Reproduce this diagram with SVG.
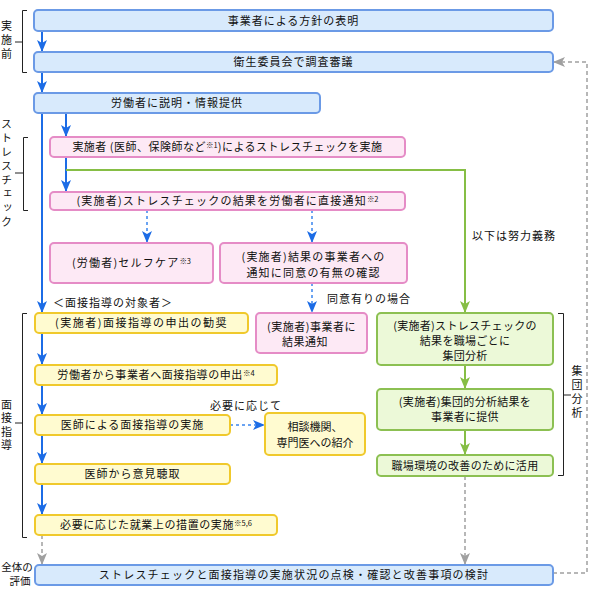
<svg xmlns="http://www.w3.org/2000/svg" width="590" height="595" viewBox="0 0 590 595">
<defs>
<style>
text{font-family:"Noto Sans CJK JP","Noto Sans CJK SC",sans-serif;font-size:11px;letter-spacing:1px;fill:#111;}
.c{text-anchor:middle;}
.v{writing-mode:vertical-rl;text-anchor:middle;}
.sup{font-size:7.5px;letter-spacing:0;}
.bl rect{fill:#d8eafc;stroke:#6b9ae6;stroke-width:2;}
.pk rect{fill:#fde9f5;stroke:#e58cc6;stroke-width:2;}
.yl rect{fill:#fffbd0;stroke:#f0c92c;stroke-width:2;}
.gr rect{fill:#ecf9d8;stroke:#8cc052;stroke-width:2;}
.ab{fill:none;stroke:#1c6ce6;stroke-width:2;}
.ad{fill:none;stroke:#3a85ee;stroke-width:1.5;stroke-dasharray:3,3;}
.ag{fill:none;stroke:#86be45;stroke-width:2;}
.ay{fill:none;stroke:#a0a0a0;stroke-width:1.5;stroke-dasharray:4,3;}
.br{fill:none;stroke:#222;stroke-width:1;}
</style>
<marker id="mb" viewBox="0 0 12 10" refX="11" refY="5" markerWidth="12" markerHeight="10" markerUnits="userSpaceOnUse" orient="auto"><path d="M0,0 L12,5 L0,10 L3,5 z" fill="#1c6ce6"/></marker>
<marker id="mg" viewBox="0 0 12 10" refX="11" refY="5" markerWidth="12" markerHeight="10" markerUnits="userSpaceOnUse" orient="auto"><path d="M0,0 L12,5 L0,10 L3,5 z" fill="#86be45"/></marker>
<marker id="my" viewBox="0 0 12 10" refX="11" refY="5" markerWidth="12" markerHeight="10" markerUnits="userSpaceOnUse" orient="auto"><path d="M0,0 L12,5 L0,10 L3,5 z" fill="#a0a0a0"/></marker>
</defs>
<rect width="590" height="595" fill="#fff"/>

<g id="connectors">
<path class="ab" d="M42,31 V51" marker-end="url(#mb)"/>
<path class="ab" d="M42,72 V92" marker-end="url(#mb)"/>
<path class="ab" d="M42,113 V312" marker-end="url(#mb)"/>
<path class="ab" d="M66,113 V136" marker-end="url(#mb)"/>
<path class="ab" d="M66,157 V191" marker-end="url(#mb)"/>
<path class="ag" d="M66,170 H465 V312" marker-end="url(#mg)"/>
<path class="ad" d="M147,210 V242" marker-end="url(#mb)"/>
<path class="ad" d="M312,210 V242" marker-end="url(#mb)"/>
<path class="ad" d="M312,283 V312" marker-end="url(#mb)"/>
<path class="ab" d="M42,333 V364" marker-end="url(#mb)"/>
<path class="ab" d="M42,385 V414" marker-end="url(#mb)"/>
<path class="ab" d="M42,435 V463" marker-end="url(#mb)"/>
<path class="ab" d="M42,484 V514" marker-end="url(#mb)"/>
<path class="ad" d="M230,425 H264" marker-end="url(#mb)"/>
<path class="ag" d="M465,365 V388" marker-end="url(#mg)"/>
<path class="ag" d="M465,430 V454" marker-end="url(#mg)"/>
<path class="ay" d="M42,535 V564" marker-end="url(#my)"/>
<path class="ay" d="M465,476 V564" marker-end="url(#my)"/>
<path class="ay" d="M553,573 H587 V62 H554" marker-end="url(#my)"/>
</g>

<g id="brackets">
<path class="br" d="M27,10.5 H22.5 V72.5 H27 M22.5,42 H15"/>
<path class="br" d="M28,137.5 H23.5 V210.5 H28 M23.5,173 H15"/>
<path class="br" d="M27,313.5 H22.5 V537.5 H27 M22.5,423 H15"/>
<path class="br" d="M558,313.5 H563.5 V475.5 H558 M563.5,395 H571"/>
</g>

<g id="labels">
<text class="v" x="6.5" y="41" style="letter-spacing:3px">実施前</text>
<text class="v" x="6.5" y="174" style="letter-spacing:3px">ストレスチェック</text>
<text class="v" x="6.5" y="426" style="letter-spacing:2.5px">面接指導</text>
<text class="v" x="577" y="393" style="letter-spacing:3px">集団分析</text>
<text class="c" x="17" y="570.5" style="letter-spacing:0;font-size:10.5px">全体の</text>
<text class="c" x="20" y="584.5" style="letter-spacing:0;font-size:10.5px">評価</text>
<text x="472" y="240">以下は努力義務</text>
<text x="327" y="303">同意有りの場合</text>
<text x="210" y="410">必要に応じて</text>
<text x="53" y="307">＜面接指導の対象者＞</text>
</g>

<g id="n-b1" class="bl"><rect x="34" y="10" width="519" height="21" rx="4"/><text class="c" x="293.5" y="25">事業者による方針の表明</text></g>
<g id="n-b2" class="bl"><rect x="34" y="52" width="519" height="20" rx="4"/><text class="c" x="293.5" y="66">衛生委員会で調査審議</text></g>
<g id="n-b3" class="bl"><rect x="34" y="93" width="286" height="20" rx="4"/><text class="c" x="177" y="107">労働者に説明・情報提供</text></g>

<g id="n-p1" class="pk"><rect x="50" y="137" width="355" height="20" rx="4"/><text class="c" x="227.5" y="151" style="letter-spacing:0.5px">実施者 (医師、保険師など<tspan class="sup" dy="-3">※1</tspan><tspan dy="3">)によるストレスチェックを実施</tspan></text></g>
<g id="n-p2" class="pk"><rect x="50" y="192" width="355" height="18" rx="4"/><text class="c" x="227.5" y="205" style="letter-spacing:1.2px">(実施者)ストレスチェックの結果を労働者に直接通知<tspan class="sup" dy="-3">※2</tspan></text></g>
<g id="n-p3" class="pk"><rect x="50" y="243" width="163" height="40" rx="4"/><text class="c" x="131.5" y="267" style="letter-spacing:1.2px">(労働者)セルフケア<tspan class="sup" dy="-3">※3</tspan></text></g>
<g id="n-p4" class="pk"><rect x="220" y="243" width="187" height="40" rx="4"/><text class="c" x="313.5" y="261" style="letter-spacing:1.2px">(実施者)結果の事業者への</text><text class="c" x="313.5" y="277" style="letter-spacing:1.2px">通知に同意の有無の確認</text></g>
<g id="n-p5" class="pk"><rect x="256" y="313" width="111" height="40" rx="4"/><text class="c" x="311.5" y="331" style="letter-spacing:0.5px">(実施者)事業者に</text><text class="c" x="305" y="346" style="letter-spacing:0.5px">結果通知</text></g>

<g id="n-y1" class="yl"><rect x="35" y="313" width="213" height="20" rx="4"/><text class="c" x="141.5" y="327" style="letter-spacing:1.5px">(実施者)面接指導の申出の勧奨</text></g>
<g id="n-y2" class="yl"><rect x="35" y="365" width="242" height="20" rx="4"/><text class="c" x="156" y="379" style="letter-spacing:0.6px">労働者から事業者へ面接指導の申出<tspan class="sup" dy="-3">※4</tspan></text></g>
<g id="n-y3" class="yl"><rect x="35" y="415" width="195" height="20" rx="4"/><text class="c" x="132.5" y="429">医師による面接指導の実施</text></g>
<g id="n-y6" class="yl"><rect x="265" y="413" width="100" height="42" rx="4"/><text class="c" x="315" y="431" style="letter-spacing:0">相談機関、</text><text class="c" x="315" y="447" style="letter-spacing:0">専門医への紹介</text></g>
<g id="n-y4" class="yl"><rect x="35" y="464" width="195" height="20" rx="4"/><text class="c" x="132.5" y="478">医師から意見聴取</text></g>
<g id="n-y5" class="yl"><rect x="35" y="515" width="242" height="20" rx="4"/><text class="c" x="156" y="529" style="letter-spacing:0.6px">必要に応じた就業上の措置の実施<tspan class="sup" dy="-3">※5,6</tspan></text></g>

<g id="n-g1" class="gr"><rect x="377" y="313" width="176" height="52" rx="4"/><text class="c" x="465" y="330" style="letter-spacing:0.3px">(実施者)ストレスチェックの</text><text class="c" x="465" y="345" style="letter-spacing:0.3px">結果を職場ごとに</text><text class="c" x="465" y="360" style="letter-spacing:0.3px">集団分析</text></g>
<g id="n-g2" class="gr"><rect x="377" y="389" width="176" height="41" rx="4"/><text class="c" x="465" y="406" style="letter-spacing:0.3px">(実施者)集団的分析結果を</text><text class="c" x="465" y="421" style="letter-spacing:0.3px">事業者に提供</text></g>
<g id="n-g3" class="gr"><rect x="377" y="455" width="176" height="21" rx="4"/><text class="c" x="465" y="470" style="letter-spacing:0.3px">職場環境の改善のために活用</text></g>

<g id="n-b4" class="bl"><rect x="35" y="565" width="518" height="20" rx="4"/><text class="c" x="294" y="579" style="letter-spacing:1.2px">ストレスチェックと面接指導の実施状況の点検・確認と改善事項の検討</text></g>
</svg>
